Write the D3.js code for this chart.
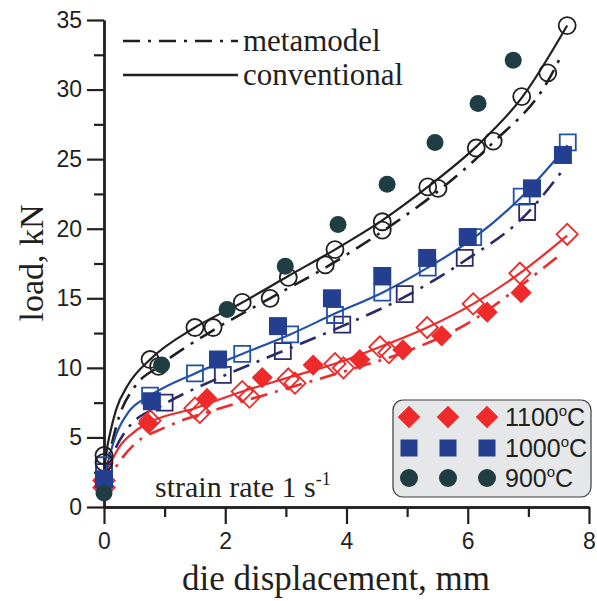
<!DOCTYPE html>
<html>
<head>
<meta charset="utf-8">
<script src="https://cdn.jsdelivr.net/npm/d3@7"></script>
<style>
  body { margin: 0; background: #fff; }
  svg { display: block; }
  .tick text { font-family: "Liberation Sans", Arial, sans-serif; font-size: 23px; fill: #231f20; }
  .serif { font-family: "Liberation Serif", "Times New Roman", serif; fill: #231f20; }
</style>
</head>
<body>
<div id="chart"></div>
<script>
// x ticks / y ticks
var xTicks = [0, 2, 4, 6, 8];
var xMinor = [1, 3, 5, 7];
var yTicks = [0, 5, 10, 15, 20, 25, 30, 35];
var yMinor = [2.5, 7.5, 12.5, 17.5, 22.5, 27.5, 32.5];

// 900 C
var exp900 = [[0,1.0],[0.95,10.2],[2.03,14.2],[2.99,17.3],[3.86,20.3],[4.67,23.2],[5.46,26.2],[6.17,29.0],[6.75,32.1]];
var conv900Pts = [[0,3.7],[0.76,10.6],[1.5,12.9],[2.28,14.7],[3.04,16.5],[3.81,18.5],[4.59,20.5],[5.34,23.0],[6.14,25.8],[6.89,29.5],[7.64,34.6]];
var meta900Pts = [[0,3.2],[0.9,10.1],[1.8,12.9],[2.74,15.0],[3.65,17.4],[4.59,19.9],[5.51,22.9],[6.42,26.3],[7.32,31.2]];
var conv900Line = [[0,2.5],[0.05,4.2],[0.1,5.3],[0.2,7.0],[0.4,8.8],[0.76,10.6],[1.5,12.9],[2.28,14.7],[3.04,16.6],[3.81,18.5],[4.59,20.6],[5.34,23.0],[6.14,25.9],[6.89,29.4],[7.64,34.6]];
var meta900Line = [[0,2.0],[0.1,4.0],[0.25,6.5],[0.5,8.6],[0.9,10.1],[1.8,12.7],[2.74,15.0],[3.65,17.2],[4.59,19.8],[5.51,22.7],[6.42,26.2],[7.32,30.6],[7.55,32.5]];

// 1000 C
var exp1000 = [[0,2.0],[0.79,7.6],[1.88,10.6],[2.87,13.0],[3.76,15.0],[4.59,16.6],[5.33,17.9],[6.0,19.4],[7.06,22.9],[7.57,25.3]];
var conv1000Pts = [[0,3.0],[0.76,8.0],[1.5,9.6],[2.28,11.0],[3.07,12.4],[3.81,13.8],[4.59,15.4],[5.34,17.2],[6.09,19.4],[6.89,22.3],[7.65,26.2]];
var meta1000Pts = [[0,2.5],[1.0,7.5],[1.96,9.5],[2.95,11.2],[3.93,13.1],[4.96,15.3],[5.95,17.9],[6.98,21.2]];
var conv1000Line = [[0,2.0],[0.1,3.8],[0.2,5.2],[0.4,6.8],[0.76,8.0],[1.5,9.6],[2.28,11.0],[3.07,12.4],[3.81,13.9],[4.59,15.4],[5.34,17.2],[6.09,19.3],[6.89,22.3],[7.65,26.0]];
var meta1000Line = [[0,1.8],[0.15,3.8],[0.4,5.7],[1.0,7.4],[1.96,9.4],[2.95,11.2],[3.93,13.0],[4.96,15.1],[5.95,17.7],[6.98,21.1],[7.6,24.4]];

// 1100 C
var exp1100 = [[0,1.5],[0.73,6.0],[1.70,7.8],[2.61,9.3],[3.45,10.2],[4.22,10.6],[4.93,11.3],[5.57,12.3],[6.32,14.0],[6.88,15.4]];
var conv1100Pts = [[0,1.9],[0.76,6.2],[1.5,7.1],[2.28,8.3],[3.04,9.2],[3.81,10.3],[4.55,11.5],[5.33,12.9],[6.09,14.6],[6.86,16.8],[7.64,19.6]];
var meta1100Pts = [[0,1.4],[1.58,6.8],[2.4,7.9],[3.15,8.9],[3.95,10.0],[4.7,11.1]];
var conv1100Line = [[0,1.6],[0.1,3.0],[0.25,4.3],[0.5,5.4],[0.76,6.1],[1.5,7.1],[2.28,8.3],[3.04,9.3],[3.81,10.3],[4.55,11.5],[5.33,12.9],[6.09,14.6],[6.86,16.8],[7.64,19.5]];
var meta1100Line = [[0,1.3],[0.2,2.9],[0.5,4.5],[1.0,5.7],[2.0,7.2],[3.0,8.5],[4.0,9.8],[5.0,11.2],[6.0,13.2],[6.9,16.0],[7.57,18.3]];

var legendTemps = ["1100", "1000", "900"];

var width = 597, height = 601;
var red = "#ee2a2a", blueFill = "#243f8f", blueOpen = "#2350a8", navy = "#2b2a6b", teal = "#1f3d42", ink = "#231f20";
var dashDot = "17,8,3,8";

var svg = d3.select("#chart").append("svg")
  .attr("width", width).attr("height", height);

var x = d3.scaleLinear().domain([0, 8]).range([104, 589]);
var y = d3.scaleLinear().domain([0, 35]).range([507, 20]);

// axes
function styleAxis(g) {
  g.select(".domain").attr("stroke", ink).attr("stroke-width", 2.4);
  g.selectAll(".tick line").attr("stroke", ink).attr("stroke-width", 2.2);
}
svg.append("g").attr("transform", "translate(0,507)")
  .call(d3.axisBottom(x).tickValues(xMinor).tickSize(10).tickFormat("").tickSizeOuter(0)).call(styleAxis);
svg.append("g").attr("transform", "translate(104,0)")
  .call(d3.axisLeft(y).tickValues(yMinor).tickSize(10).tickFormat("").tickSizeOuter(0)).call(styleAxis);
svg.append("g").attr("transform", "translate(0,507)")
  .call(d3.axisBottom(x).tickValues(xTicks).tickSize(17).tickPadding(9).tickSizeOuter(0)).call(styleAxis);
svg.append("g").attr("transform", "translate(104,0)")
  .call(d3.axisLeft(y).tickValues(yTicks).tickSize(17).tickPadding(5).tickSizeOuter(0)).call(styleAxis);

// axis titles
svg.append("text").attr("class", "serif")
  .attr("x", 336).attr("y", 590).attr("text-anchor", "middle")
  .style("font-size", "35px").text("die displacement, mm");
svg.append("text").attr("class", "serif")
  .attr("transform", "translate(43,263) rotate(-90)").attr("text-anchor", "middle")
  .style("font-size", "34px").text("load, kN");

// lines
var line = d3.line().x(function(d) { return x(d[0]); }).y(function(d) { return y(d[1]); })
  .curve(d3.curveMonotoneX);

var lines = [
  { data: meta1100Line, color: red, dash: dashDot },
  { data: meta1000Line, color: navy, dash: dashDot },
  { data: meta900Line, color: ink, dash: dashDot },
  { data: conv1100Line, color: red, dash: null },
  { data: conv1000Line, color: blueOpen, dash: null },
  { data: conv900Line, color: ink, dash: null }
];
svg.append("g").selectAll("path").data(lines).enter().append("path")
  .attr("d", function(d) { return line(d.data); })
  .attr("fill", "none")
  .attr("stroke", function(d) { return d.color; })
  .attr("stroke-width", function(d) { return d.dash ? 2.6 : 2.2; })
  .attr("stroke-dasharray", function(d) { return d.dash; });

// markers
var circle = d3.symbol().type(d3.symbolCircle).size(Math.PI * 8.5 * 8.5)();
var square = d3.symbol().type(d3.symbolSquare).size(16 * 16)();
var bigSquare = d3.symbol().type(d3.symbolSquare).size(18 * 18)();
var diamond = d3.symbol().type(d3.symbolSquare).size(15 * 15)();

function drawPts(data, shape, fill, stroke, rot) {
  svg.append("g").selectAll("path").data(data).enter().append("path")
    .attr("d", shape)
    .attr("transform", function(d) { return "translate(" + x(d[0]) + "," + y(d[1]) + ")" + (rot ? " rotate(45)" : ""); })
    .attr("fill", fill)
    .attr("stroke", stroke)
    .attr("stroke-width", stroke === "none" ? 0 : 1.8);
}

drawPts(meta1100Pts, diamond, "none", red, true);
drawPts(conv1100Pts, diamond, "none", red, true);
drawPts(meta1000Pts, square, "none", navy, false);
drawPts(conv1000Pts, square, "none", blueOpen, false);
drawPts(meta900Pts, circle, "none", ink, false);
drawPts(conv900Pts, circle, "none", ink, false);
drawPts(exp1100, diamond, red, "none", true);
drawPts(exp1000, bigSquare, blueFill, "none", false);
drawPts(exp900, circle, teal, "none", false);

// top-left legend
var topLegend = [
  { label: "metamodel", dash: dashDot, y: 41 },
  { label: "conventional", dash: null, y: 75 }
];
var tl = svg.append("g").selectAll("g").data(topLegend).enter().append("g");
tl.append("line")
  .attr("x1", 123).attr("x2", 238)
  .attr("y1", function(d) { return d.y; }).attr("y2", function(d) { return d.y; })
  .attr("stroke", ink).attr("stroke-width", 2.6)
  .attr("stroke-dasharray", function(d) { return d.dash; });
tl.append("text").attr("class", "serif")
  .attr("x", 243).attr("y", function(d) { return d.y + 10; })
  .style("font-size", "31px")
  .text(function(d) { return d.label; });

// strain rate note
var note = svg.append("text").attr("class", "serif")
  .attr("x", 155).attr("y", 497).style("font-size", "30px");
note.append("tspan").text("strain rate 1 s");
note.append("tspan").attr("dy", -12).style("font-size", "18px").text("-1");

// bottom-right legend
svg.append("rect")
  .attr("x", 393).attr("y", 400).attr("width", 198).attr("height", 97)
  .attr("rx", 10).attr("fill", "#e6e7e8").attr("stroke", "#3a3a3a").attr("stroke-width", 1.2);

var legendRows = [
  { temp: legendTemps[0], shape: d3.symbol().type(d3.symbolSquare).size(16 * 16)(), color: red, rot: true, y: 417 },
  { temp: legendTemps[1], shape: d3.symbol().type(d3.symbolSquare).size(17 * 17)(), color: blueFill, rot: false, y: 448 },
  { temp: legendTemps[2], shape: d3.symbol().type(d3.symbolCircle).size(Math.PI * 9 * 9)(), color: teal, rot: false, y: 478 }
];
var mx = [409, 448, 487];
var lr = svg.append("g").selectAll("g").data(legendRows).enter().append("g");
lr.each(function(row) {
  var g = d3.select(this);
  mx.forEach(function(px) {
    g.append("path").attr("d", row.shape)
      .attr("transform", "translate(" + px + "," + row.y + ")" + (row.rot ? " rotate(45)" : ""))
      .attr("fill", row.color);
  });
  var t = g.append("text")
    .attr("x", 505).attr("y", row.y + 9)
    .style("font-family", "'Liberation Sans', Arial, sans-serif")
    .style("font-size", "25px").attr("fill", ink);
  t.append("tspan").text(row.temp);
  t.append("tspan").attr("dy", -10).style("font-size", "15px").text("o");
  t.append("tspan").attr("dy", 10).text("C");
});
</script>
</body>
</html>
